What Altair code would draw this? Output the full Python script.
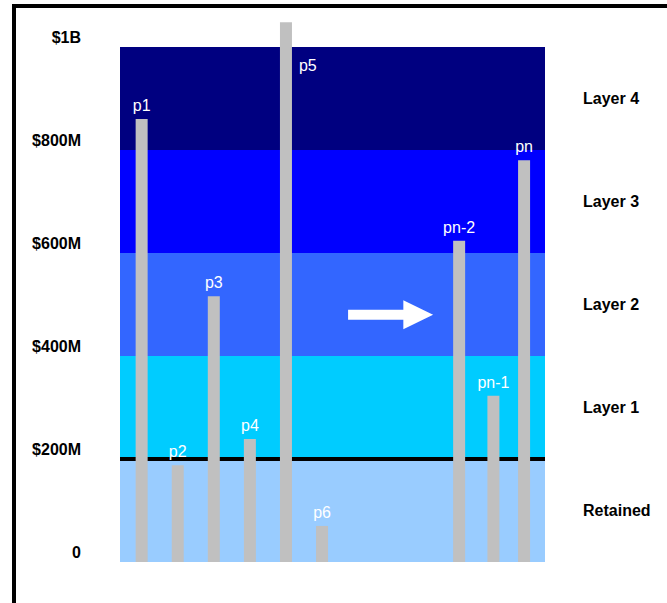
import altair as alt
import pandas as pd

# ---- data (values in $ millions) ----
band_names = ["Retained", "Layer 1", "Layer 2", "Layer 3", "Layer 4"]
band_lo = [0, 200, 400, 600, 800]
band_hi = [200, 400, 600, 800, 1000]
band_colors = ["#99CCFF", "#00CCFF", "#3366FF", "#0000FF", "#000080"]

bar_names = ["p1", "p2", "p3", "p4", "p5", "p6", "pn-2", "pn-1", "pn"]
bar_slots = [1, 2, 3, 4, 5, 6, 9.8, 10.75, 11.6]
bar_values = [860, 188, 516, 239, 1048, 70, 624, 323, 780]

tick_values = [0, 200, 400, 600, 800, 1000]
tick_labels = ["0", "$200M", "$400M", "$600M", "$800M", "$1B"]
retention_limit = 200
arrow_slot, arrow_value = 7.9, 480

# ---- layout ----
W, H = 425, 515
FONT = "Liberation Sans"

bands = pd.DataFrame({"name": band_names, "lo": band_lo, "hi": band_hi, "color": band_colors})
bars = pd.DataFrame({"name": bar_names, "slot": bar_slots, "value": bar_values})
ticks = pd.DataFrame({"value": tick_values, "label": tick_labels})
arrow = pd.DataFrame({"slot": [arrow_slot], "value": [arrow_value]})

yscale = alt.Scale(domain=[0, 1000], nice=False, zero=True)
xscale = alt.Scale(domain=[0.4, 12.18], nice=False, zero=False)

band_layer = alt.Chart(bands).mark_rect().encode(
    x=alt.value(0), x2=alt.value(W),
    y=alt.Y("lo:Q", scale=yscale, axis=None), y2="hi:Q",
    color=alt.Color("color:N", scale=None),
)

limit_line = alt.Chart(pd.DataFrame({"v": [retention_limit]})).mark_rule(
    color="black", strokeWidth=4
).encode(x=alt.value(0), x2=alt.value(W), y=alt.Y("v:Q", scale=yscale, axis=None))

bar_layer = alt.Chart(bars).transform_calculate(base="0").mark_rule(
    color="#C0C0C0", strokeWidth=12
).encode(
    x=alt.X("slot:Q", scale=xscale, axis=None),
    y=alt.Y("value:Q", scale=yscale, axis=None),
    y2="base:Q",
)

bar_labels = alt.Chart(bars).transform_filter("datum.name != 'p5'").mark_text(
    color="white", font=FONT, fontSize=16, align="center", baseline="alphabetic", dy=-8
).encode(
    x=alt.X("slot:Q", scale=xscale, axis=None),
    y=alt.Y("value:Q", scale=yscale, axis=None),
    text="name:N",
)

p5_label = alt.Chart(bars).transform_filter("datum.name == 'p5'").transform_calculate(
    top="1000"
).mark_text(
    color="white", font=FONT, fontSize=16, align="left", baseline="alphabetic", dx=13, dy=24
).encode(
    x=alt.X("slot:Q", scale=xscale, axis=None),
    y=alt.Y("top:Q", scale=yscale, axis=None),
    text="name:N",
)

tick_layer = alt.Chart(ticks).mark_text(
    color="black", font=FONT, fontSize=16, fontWeight="bold", align="right", baseline="middle", dy=-9
).encode(
    x=alt.value(-39),
    y=alt.Y("value:Q", scale=yscale, axis=None),
    text="label:N",
)

band_labels = alt.Chart(bands).transform_calculate(mid="(datum.lo + datum.hi) / 2").mark_text(
    color="black", font=FONT, fontSize=16, fontWeight="bold", align="left", baseline="middle"
).encode(
    x=alt.value(463),
    y=alt.Y("mid:Q", scale=yscale, axis=None),
    text="name:N",
)

arrow_path = "M -1 -0.118 L 0.3 -0.118 L 0.3 -0.34 L 1 0 L 0.3 0.34 L 0.3 0.118 L -1 0.118 Z"
arrow_layer = alt.Chart(arrow).mark_point(
    shape=arrow_path, size=7225, filled=True, color="white", opacity=1, strokeWidth=0
).encode(
    x=alt.X("slot:Q", scale=xscale, axis=None),
    y=alt.Y("value:Q", scale=yscale, axis=None),
)

frame_left = alt.Chart(pd.DataFrame({"a": [0]})).mark_rule(color="black", strokeWidth=4).encode(
    x=alt.value(-106), y=alt.value(-43), y2=alt.value(H + 60)
)
frame_top = alt.Chart(pd.DataFrame({"a": [0]})).mark_rule(color="black", strokeWidth=4).encode(
    x=alt.value(-108), x2=alt.value(W + 140), y=alt.value(-41)
)

chart = alt.layer(
    band_layer, limit_line, bar_layer, bar_labels, p5_label, tick_layer, band_labels, arrow_layer,
    frame_left, frame_top,
).properties(
    width=W, height=H,
    autosize=alt.AutoSizeParams(type="none"),
    padding={"left": 120, "top": 47, "right": 122, "bottom": 41},
    background="white",
).configure_view(strokeWidth=0)

chart.save("out.html", embed_options={"renderer": "svg", "actions": False})
